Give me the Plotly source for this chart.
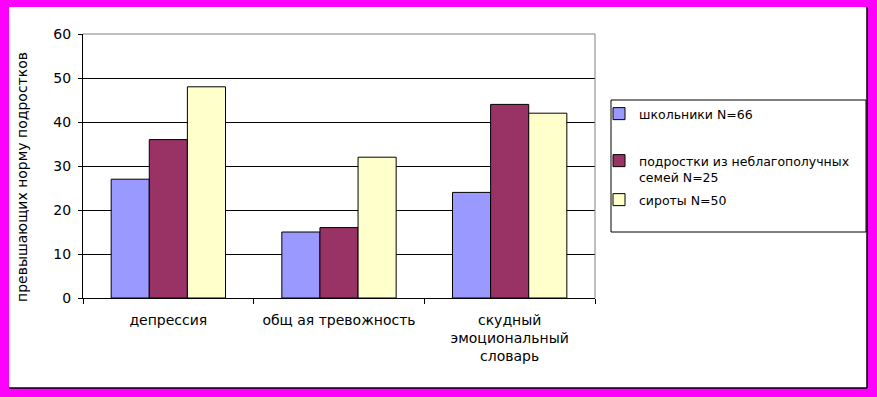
import plotly.graph_objects as go

categories = ["депрессия", "общ ая тревожность", "скудный<br>эмоциональный<br>словарь"]
series_names = ["школьники N=66", "подростки из неблагополучных<br>семей N=25", "сироты N=50"]
shkolniki = [27, 15, 24]
podrostki = [36, 16, 44]
siroty = [48, 32, 42]
y_ticks = [0, 10, 20, 30, 40, 50, 60]
y_title = "превышающих норму подростков"

colors = ["#9999FF", "#993366", "#FFFFCC"]

W, H = 877, 397
L, R, T, B = 83, 282, 34, 99
PW, PH = W - L - R, H - T - B


def px(x):
    return (x - L) / PW


def py(y):
    return (T + PH - y) / PH


FONT = "DejaVu Sans, Verdana, sans-serif"

fig = go.Figure()
legends = ["legend", "legend2", "legend3"]
for name, vals, col, lg in zip(series_names, [shkolniki, podrostki, siroty], colors, legends):
    fig.add_trace(go.Bar(
        x=categories, y=vals, name=name, legend=lg,
        marker=dict(color=col, line=dict(color="black", width=1)),
        hoverinfo="skip",
    ))

shapes = [
    # white chart area inside magenta frame
    dict(type="rect", xref="paper", yref="paper", x0=px(9), x1=px(867), y0=py(388), y1=py(7),
         fillcolor="white", line=dict(width=0), layer="below"),
    dict(type="line", xref="paper", yref="paper", x0=px(867), x1=px(867), y0=py(388), y1=py(7),
         line=dict(color="black", width=1.5), layer="below"),
    dict(type="line", xref="paper", yref="paper", x0=px(9), x1=px(867), y0=py(388), y1=py(388),
         line=dict(color="black", width=1.5), layer="below"),
    # legend box
    dict(type="rect", xref="paper", yref="paper", x0=px(611), x1=px(866), y0=py(232), y1=py(100),
         fillcolor="white", line=dict(color="black", width=1), layer="below"),
    # plot border top/right
    dict(type="line", xref="paper", yref="paper", x0=0, x1=1, y0=1, y1=1,
         line=dict(color="#808080", width=1)),
    dict(type="line", xref="paper", yref="paper", x0=1, x1=1, y0=0, y1=1,
         line=dict(color="#808080", width=1)),
]

leg_common = dict(bgcolor="rgba(0,0,0,0)", borderwidth=0, xanchor="left", yanchor="top",
                  font=dict(family=FONT, size=12.5, color="black"), valign="top")

fig.update_layout(
    width=W, height=H,
    margin=dict(l=L, r=R, t=T, b=B, autoexpand=False),
    paper_bgcolor="#FF00FF",
    plot_bgcolor="#C0C0C0",
    barmode="group", bargap=0.33, bargroupgap=0,
    font=dict(family=FONT, size=13, color="black"),
    showlegend=True,
    legend=dict(x=px(599), y=py(99), **leg_common),
    legend2=dict(x=px(599), y=py(146), **leg_common),
    legend3=dict(x=px(599), y=py(185), **leg_common),
    shapes=shapes,
    xaxis=dict(
        showline=True, linecolor="black", linewidth=1,
        ticks="outside", tickson="boundaries", ticklen=5, tickcolor="black",
        tickfont=dict(family=FONT, size=14, color="black"),
        ticklabelstandoff=9,
        showgrid=False, fixedrange=True,
    ),
    yaxis=dict(
        range=[0, 60], tickvals=y_ticks, showline=True, linecolor="black", linewidth=1,
        ticks="outside", ticklen=4, tickcolor="black",
        showgrid=True, gridcolor="black", gridwidth=1, zeroline=False,
        tickfont=dict(family=FONT, size=14, color="black"),
        ticklabelstandoff=4, fixedrange=True,
    ),
    annotations=[dict(
        text=y_title, textangle=-90, xref="paper", yref="paper",
        x=px(22), y=py(177), xanchor="center", yanchor="middle", showarrow=False,
        font=dict(family=FONT, size=14, color="black"),
    )],
)

fig.write_html(
    "out.html",
    config={"displayModeBar": False},
    post_script="document.body.style.margin='0';document.body.style.padding='0';",
)
